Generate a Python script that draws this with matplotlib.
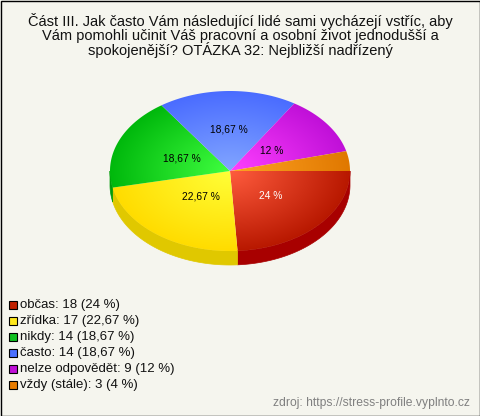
import matplotlib
matplotlib.use("Agg")
import matplotlib.pyplot as plt
from matplotlib.patches import Polygon, Rectangle
import numpy as np

categories = ['občas', 'zřídka', 'nikdy', 'často', 'nelze odpovědět', 'vždy (stále)']
counts = [18, 17, 14, 14, 9, 3]
percents = ['24', '22,67', '18,67', '18,67', '12', '4']

inner_colors = ['#ff5c3e', '#ffff38', '#40ff40', '#82a6ff', '#ff40ff', '#ffa424']
outer_colors = ['#b81800', '#ffdc00', '#00b80c', '#4a6cff', '#c010d8', '#e07800']
side_colors = ['#a80000', '#e0c800', '#009c08', '#3a58d0', '#a000b0', '#c06000']
legend_colors = ['#c02000', '#ffe81c', '#10c020', '#4a70ff', '#c010d8', '#e87c00']
label_colors = ['white', 'black', 'black', 'black', 'black', 'black']
label_radius = [0.46, 0.40, 0.43, 0.52, 0.43, 0]

title = ('Část III. Jak často Vám následující lidé sami vycházejí vstříc, aby\n'
         'Vám pomohli učinit Váš pracovní a osobní život jednodušší a\n'
         'spokojenější? OTÁZKA 32: Nejbližší nadřízený')
source = 'zdroj: https://stress-profile.vyplnto.cz'

bg = '#f5f5ee'
cx, cy, rx, ry, depth = 230, 171, 120, 80, 14

plt.rcParams['font.family'] = ['Liberation Sans', 'DejaVu Sans']

fig = plt.figure(figsize=(4.8, 4.16), dpi=100, facecolor=bg)
ax = fig.add_axes([0, 0, 1, 1])
ax.set_xlim(0, 480)
ax.set_ylim(416, 0)
ax.axis('off')

edges = np.cumsum([0] + counts) / sum(counts) * 2 * np.pi

# side of the pie, only the part facing the viewer
for i in range(len(counts)):
    a = max(edges[i], 0)
    b = min(edges[i + 1], np.pi)
    if b <= a:
        continue
    t = np.linspace(a, b, 80)
    x = cx + rx * np.cos(t)
    y = cy + ry * np.sin(t)
    pts = np.column_stack([np.r_[x, x[::-1]], np.r_[y, y[::-1] + depth]])
    ax.add_patch(Polygon(pts, closed=True, fc=side_colors[i], ec=side_colors[i], lw=0.5))

# top of the pie, radial gradient clipped to each slice
gx, gy = np.meshgrid(np.linspace(-1, 1, 480), np.linspace(-1, 1, 320))
dist = np.clip(np.sqrt(gx ** 2 + gy ** 2), 0, 1)[..., None]
for i in range(len(counts)):
    c0 = np.array(matplotlib.colors.to_rgb(inner_colors[i]))
    c1 = np.array(matplotlib.colors.to_rgb(outer_colors[i]))
    img = c0 + (c1 - c0) * dist
    t = np.linspace(edges[i], edges[i + 1], 120)
    pts = np.column_stack([np.r_[cx, cx + rx * np.cos(t)], np.r_[cy, cy + ry * np.sin(t)]])
    wedge = Polygon(pts, closed=True, fc='none', ec='none', transform=ax.transData)
    ax.add_patch(wedge)
    im = ax.imshow(img, extent=[cx - rx, cx + rx, cy + ry, cy - ry], aspect='auto',
                   interpolation='bilinear', zorder=2)
    im.set_clip_path(wedge)

ax.set_xlim(0, 480)
ax.set_ylim(416, 0)

# percent labels, the small last slice has none
for i in range(len(counts) - 1):
    mid = (edges[i] + edges[i + 1]) / 2
    ax.text(cx + label_radius[i] * rx * np.cos(mid), cy + label_radius[i] * ry * np.sin(mid),
            percents[i] + ' %', color=label_colors[i], fontsize=7.4,
            ha='center', va='center', zorder=3)

ax.text(240, 35.5, title, fontsize=10.55, ha='center', va='center', color='#111111',
        linespacing=0.98, zorder=3)

for i, name in enumerate(categories):
    y = 305 + i * 16
    ax.add_patch(Rectangle((9, y - 4), 8, 8, fc=legend_colors[i], ec='black', lw=0.8, zorder=3))
    ax.text(20, y, '%s: %d (%s %%)' % (name, counts[i], percents[i]), fontsize=9.5,
            ha='left', va='center', color='#111111', zorder=3)

ax.text(470, 403, source, fontsize=8.7, ha='right', va='center', color='#808080', zorder=3)

ax.add_patch(Rectangle((0.5, 0.5), 479, 415, fc='none', ec='black', lw=1, zorder=4))

fig.savefig('out.png', dpi=100, facecolor=bg)
